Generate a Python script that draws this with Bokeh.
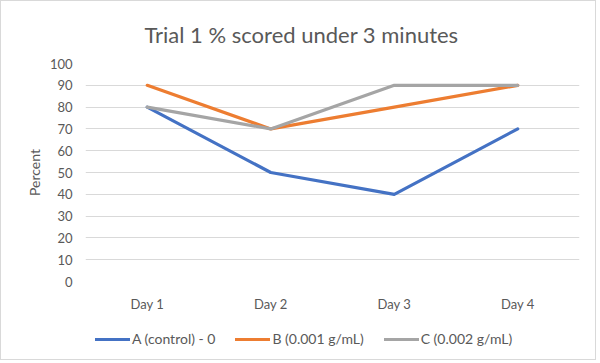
from bokeh.plotting import figure
from bokeh.layouts import column
from bokeh.models import Range1d, Legend, LegendItem, SingleIntervalTicker, Title
from bokeh.embed import file_html
from bokeh.resources import INLINE

days = ["Day 1", "Day 2", "Day 3", "Day 4"]
series_a = [80, 50, 40, 70]
series_b = [90, 70, 80, 90]
series_c = [80, 70, 90, 90]
names = ["A (control) - 0", "B (0.001 g/mL)", "C (0.002 g/mL)"]
colors = ["#4472C4", "#ED7D31", "#A5A5A5"]

FONT = "Lato"
TXT = "#595959"
series = [series_a, series_b, series_c]

p = figure(width=594, height=313, x_range=days, y_range=Range1d(0, 100),
           output_backend="svg", toolbar_location=None,
           min_border_left=84, min_border_right=16, min_border_top=62, min_border_bottom=30)

for vals, c in zip(series, colors):
    p.line(days, vals, line_color=c, line_width=3.2, line_join="round", line_cap="round")

p.title = Title(text="Trial 1 % scored under 3 minutes", align="left", offset=59,
                text_font=FONT, text_font_size="22px", text_color=TXT,
                text_font_style="normal", standoff=32)

p.outline_line_color = None
p.xgrid.grid_line_color = None
p.ygrid.grid_line_color = "#D9D9D9"
p.ygrid.grid_line_width = 1
p.yaxis.ticker = SingleIntervalTicker(interval=10)
for ax in (p.xaxis[0], p.yaxis[0]):
    ax.axis_line_color = None
    ax.major_tick_line_color = None
    ax.minor_tick_line_color = None
    ax.major_label_text_font = FONT
    ax.major_label_text_font_size = "13px"
    ax.major_label_text_color = TXT
p.yaxis.major_label_standoff = 7
p.xaxis.major_label_standoff = 8
p.yaxis.axis_label = "Percent"
p.yaxis.axis_label_text_font = FONT
p.yaxis.axis_label_text_font_style = "normal"
p.yaxis.axis_label_text_font_size = "14px"
p.yaxis.axis_label_text_color = TXT
p.yaxis.axis_label_standoff = 4

# legend strip: same series drawn out of view, only the legend shows
lg = figure(width=594, height=45, x_range=days, y_range=Range1d(1000, 1001),
            output_backend="svg", toolbar_location=None,
            min_border_left=0, min_border_right=0, min_border_top=0, min_border_bottom=0)
lg.axis.visible = False
lg.grid.visible = False
lg.outline_line_color = None
rs = [lg.line(days, vals, line_color=c, line_width=3.2, line_cap="round")
      for vals, c in zip(series, colors)]
legend = Legend(items=[LegendItem(label=n, renderers=[r]) for n, r in zip(names, rs)],
                orientation="horizontal", location=(10, 12),
                label_text_font=FONT, label_text_font_size="14px", label_text_color=TXT,
                glyph_width=35, glyph_height=14, label_standoff=2, spacing=20,
                border_line_color=None, background_fill_alpha=0, padding=4, margin=0)
lg.add_layout(legend, "center")

layout = column(p, lg, spacing=0)
layout.styles = {"border": "1px solid #d9d9d9"}

open("out.html", "w").write(file_html(layout, INLINE))
